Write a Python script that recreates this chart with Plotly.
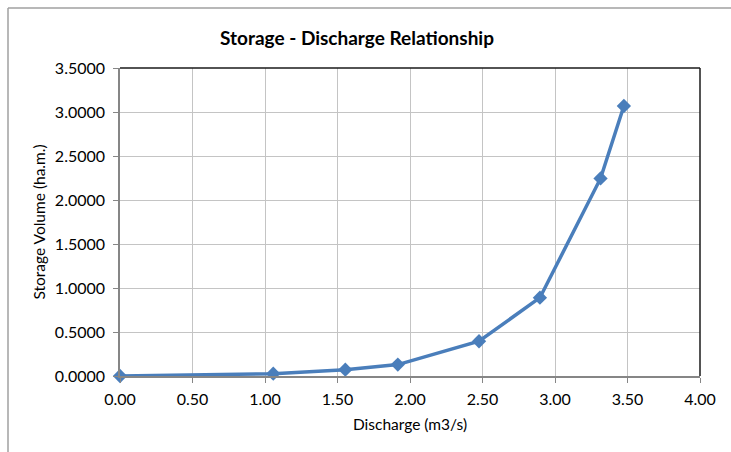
import plotly.graph_objects as go

discharge = [0.00, 1.057, 1.554, 1.916, 2.476, 2.896, 3.314, 3.475]
storage = [0.0000, 0.026, 0.072, 0.130, 0.395, 0.890, 2.245, 3.068]

x_ticks = [0.0, 0.5, 1.0, 1.5, 2.0, 2.5, 3.0, 3.5, 4.0]
x_tick_labels = ["0.00", "0.50", "1.00", "1.50", "2.00", "2.50", "3.00", "3.50", "4.00"]
y_ticks = [0.0, 0.5, 1.0, 1.5, 2.0, 2.5, 3.0, 3.5]
y_tick_labels = ["0.0000", "0.5000", "1.0000", "1.5000", "2.0000", "2.5000", "3.0000", "3.5000"]

FONT = "Lato"
BLUE = "#4a7ebb"
W, H = 731, 452
L, R, T, B = 120, 31, 68, 76
pw, ph = W - L - R, H - T - B

fig = go.Figure()
fig.add_trace(go.Scatter(
    x=discharge, y=storage, mode="lines+markers",
    line=dict(color=BLUE, width=3.5),
    marker=dict(symbol="diamond", size=11, color=BLUE),
    showlegend=False, cliponaxis=False,
))

fig.update_layout(
    width=W, height=H,
    margin=dict(l=L, r=R, t=T, b=B),
    paper_bgcolor="white", plot_bgcolor="white",
    font=dict(family=FONT, size=16, color="#000000"),
    title=dict(text="<b>Storage - Discharge Relationship</b>", xref="container", yref="container",
               x=357 / W, y=1 - 38 / H, xanchor="center", yanchor="middle",
               font=dict(family=FONT, size=19, color="#000000")),
    xaxis=dict(range=[0, 4], tickvals=x_ticks, ticktext=x_tick_labels,
               showgrid=True, gridcolor="#c4c4c4", gridwidth=1.3,
               showline=True, linecolor="#868686", linewidth=1.5,
               ticks="outside", ticklen=5, tickcolor="#868686",
               ticklabelstandoff=3,
               zeroline=False, tickfont=dict(size=16),
               title=dict(text="Discharge (m3/s)", font=dict(family=FONT, size=15.5), standoff=12)),
    yaxis=dict(range=[0, 3.5], tickvals=y_ticks, ticktext=y_tick_labels,
               showgrid=True, gridcolor="#c4c4c4", gridwidth=1.3,
               showline=True, linecolor="#868686", linewidth=1.5,
               ticks="outside", ticklen=5, tickcolor="#868686",
               ticklabelstandoff=5,
               zeroline=False, tickfont=dict(size=16),
               title=dict(text="Storage Volume (ha.m.)", font=dict(family=FONT, size=15.5), standoff=5)),
)

# plot area top and right borders (dark)
fig.add_shape(type="line", xref="paper", yref="paper", x0=0, x1=1, y0=1, y1=1,
              line=dict(color="#1a1a1a", width=1.5))
fig.add_shape(type="line", xref="paper", yref="paper", x0=1, x1=1, y0=0, y1=1,
              line=dict(color="#1a1a1a", width=1.5))

# outer chart frame (left and top edges visible)
fx0 = (8 - L) / pw
fx1 = (W + 5 - L) / pw
fy_top = 1 + (T - 8) / ph
fy_bot = -(B + 5) / ph
fig.add_shape(type="line", xref="paper", yref="paper", x0=fx0, x1=fx1, y0=fy_top, y1=fy_top,
              line=dict(color="#a0a0a0", width=1.5))
fig.add_shape(type="line", xref="paper", yref="paper", x0=fx0, x1=fx0, y0=fy_bot, y1=fy_top,
              line=dict(color="#a0a0a0", width=1.5))

fig.write_html("out.html", config={"displayModeBar": False},
               post_script="document.body.style.margin='0px';document.body.style.overflow='hidden';")
